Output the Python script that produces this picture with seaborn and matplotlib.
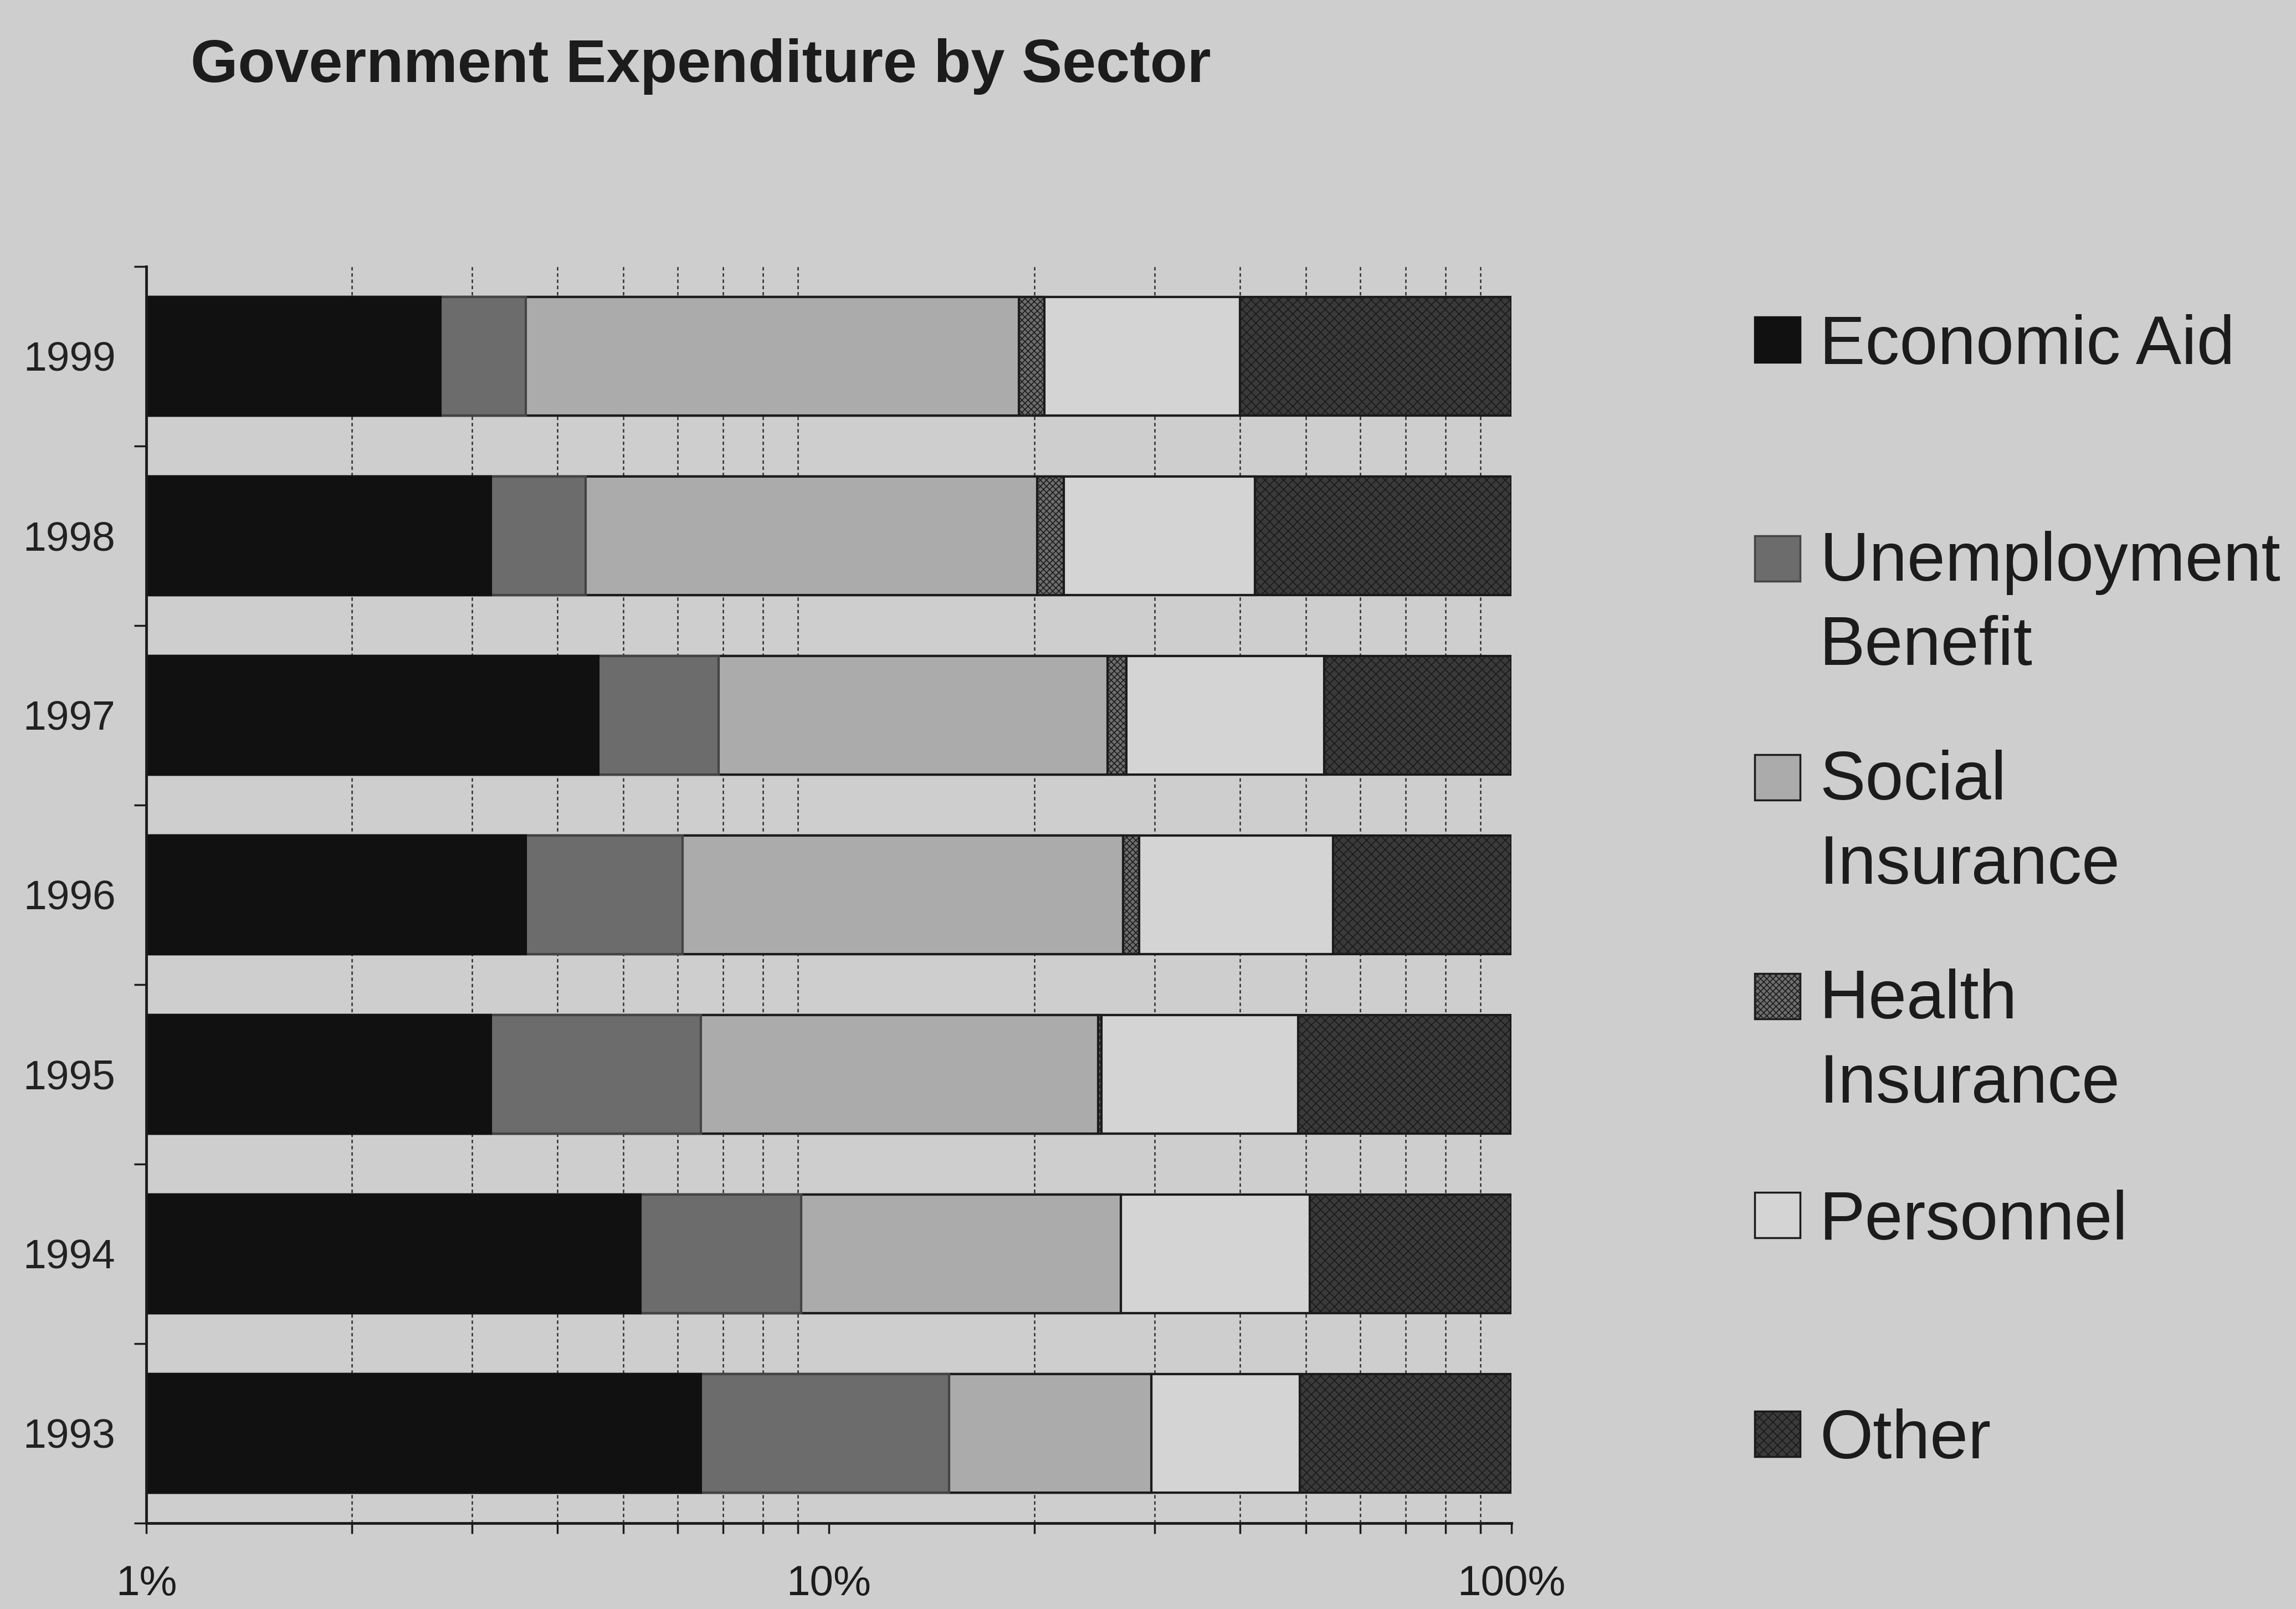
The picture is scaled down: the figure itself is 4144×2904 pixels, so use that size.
import numpy as np
import pandas as pd
import matplotlib
matplotlib.use("Agg")
import matplotlib.pyplot as plt
from matplotlib.patches import Rectangle
import seaborn as sns

# ---- data (percent of total expenditure, per year) ----
years = ["1999", "1998", "1997", "1996", "1995", "1994", "1993"]
sectors = ["Economic Aid", "Unemployment\nBenefit", "Social\nInsurance",
           "Health\nInsurance", "Personnel", "Other"]
economic_aid = [2.7, 3.2, 4.6, 3.6, 3.2, 5.3, 6.5]
unemployment_benefit = [0.9, 1.2, 2.3, 2.5, 3.3, 3.8, 8.5]
social_insurance = [15.4, 15.8, 18.7, 20.9, 18.3, 17.7, 14.7]
health_insurance = [1.7, 1.9, 1.7, 1.5, 0.3, 0.0, 0.0]
personnel = [19.3, 20.0, 25.9, 26.3, 23.6, 23.8, 19.3]
other = [60.0, 57.9, 46.8, 45.2, 51.2, 49.4, 51.0]
x_tick_values = [1, 10, 100]
x_tick_labels = ["1%", "10%", "100%"]

series = [economic_aid, unemployment_benefit, social_insurance,
          health_insurance, personnel, other]

# ---- styling ----
BG = "#cecece"
INK = "#1c1c1c"
fills = ["#111111", "#6c6c6c", "#ababab", "#6e6e6e", "#d4d4d4", "#3a3a3a"]
hatches = [None, None, None, "xxx", None, "xx"]
edges = ["#111111", "#444444", INK, INK, INK, "#1a1a1a"]

sns.set_theme(style="white")
plt.rcParams["font.family"] = ["Liberation Sans", "DejaVu Sans"]
plt.rcParams["hatch.linewidth"] = 1.2

fig = plt.figure(figsize=(41.44, 29.04), dpi=100, facecolor=BG)
ax = fig.add_axes([0.0637, 0.0534, 0.5946, 0.7810])
ax.set_facecolor(BG)

# stacked bars: draw running totals from the longest down to the shortest
data = np.array(series)
cumulative = np.cumsum(data, axis=0)
for i in range(len(sectors) - 1, -1, -1):
    df = pd.DataFrame({"year": years, "value": cumulative[i]})
    sns.barplot(data=df, x="value", y="year", order=years, orient="h",
                color=fills[i], saturation=1, width=0.66, errorbar=None,
                edgecolor=edges[i], linewidth=3, hatch=hatches[i], ax=ax)

ax.set_xscale("log")
ax.set_xlim(1, 100)
ax.set_ylim(len(years) - 0.5, -0.5)

# axis decoration
minor_pos = [m * d for d in (1, 10) for m in range(2, 10)]
ax.set_xticks(x_tick_values)
ax.set_xticklabels(x_tick_labels)
ax.set_xticks(minor_pos, minor=True)
ax.set_xticklabels([], minor=True)
ax.grid(False)
ax.grid(which="minor", axis="x", color="#303030", linewidth=1.8,
        linestyle=(0, (2.5, 2)))
ax.set_axisbelow(True)

ax.set_yticks(np.arange(len(years)))
ax.set_yticklabels(years)
ax.set_yticks(np.arange(len(years) + 1) - 0.5, minor=True)

ax.tick_params(axis="x", which="both", direction="out", length=14, width=2.5,
               color=INK, bottom=True, labelsize=55, labelcolor=INK, pad=40)
ax.tick_params(axis="y", which="major", length=0, pad=40, labelsize=54,
               labelcolor="#222222", left=True)
ax.tick_params(axis="y", which="minor", direction="out", length=16,
               width=2.5, color=INK, left=True)

ax.set_xlabel("")
ax.set_ylabel("")
for side in ("top", "right"):
    ax.spines[side].set_visible(False)
for side in ("left", "bottom"):
    ax.spines[side].set_color(INK)
    ax.spines[side].set_linewidth(3.5)

# title
fig.text(344 / 4144, 1 - 120 / 2904, "Government Expenditure by Sector",
         ha="left", va="center", fontsize=79, fontweight="bold", color=INK)

# legend with evenly spaced entries, label first lines level with the keys
W, H = 4144, 2904
key_x, key_w = 3167, 82
text_x = 3284
first_center, step = 613, 395
legend_size = 89
line_step = 148                      # pixels between label lines
cap_half = 0.716 * legend_size * (100 / 72) / 2
for i, name in enumerate(sectors):
    cy = first_center + i * step
    n_lines = name.count("\n") + 1
    fig.patches.append(Rectangle((key_x / W, 1 - (cy + key_w / 2) / H),
                                 key_w / W, key_w / H,
                                 transform=fig.transFigure,
                                 facecolor=fills[i], edgecolor=edges[i],
                                 hatch=hatches[i], linewidth=2.5))
    # multi-line text is anchored at the baseline of its last line
    base_px = cy + cap_half + (n_lines - 1) * line_step
    fig.text(text_x / W, 1 - base_px / H, name, ha="left",
             va="baseline", fontsize=legend_size, color=INK,
             linespacing=1.40)

fig.savefig("out.png", dpi=100, facecolor=BG)
